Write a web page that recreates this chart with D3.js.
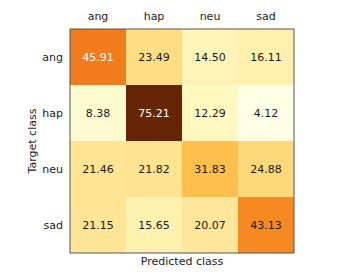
<!DOCTYPE html>
<html>
<head>
<meta charset="utf-8">
<script src="https://cdn.jsdelivr.net/npm/d3@7"></script>
<style>
  body { margin: 0; background: #fff; }
  text { font-family: "DejaVu Sans", sans-serif; }
</style>
</head>
<body>
<div id="art"></div>
<script type="text/javascript">
var classes = ["ang", "hap", "neu", "sad"];
// rows = target class, columns = predicted class
var angRow = [45.91, 23.49, 14.50, 16.11],
    hapRow = [8.38, 75.21, 12.29, 4.12],
    neuRow = [21.46, 21.82, 31.83, 24.88],
    sadRow = [21.15, 15.65, 20.07, 43.13];
var rows = [angRow, hapRow, neuRow, sadRow];

var w = 343, h = 277,
    mLeft = 70, mTop = 29, size = 224,
    fs = "11px";

var svg = d3.select("#art").append("svg")
    .attr("width", w)
    .attr("height", h);

var x = d3.scaleBand().domain(classes).range([mLeft, mLeft + size]),
    y = d3.scaleBand().domain(classes).range([mTop, mTop + size]);

// matplotlib YlOrBr stops
var ylorbr = ["#ffffe5", "#fff7bc", "#fee391", "#fec44f", "#fe9929", "#ec7014", "#cc4c02", "#993404", "#662506"];
var flat = d3.merge(rows),
    lo = d3.min(flat), hi = d3.max(flat);
var color = d3.scaleLinear()
    .domain(ylorbr.map(function(d, i) { return lo + (hi - lo) * i / (ylorbr.length - 1); }))
    .range(ylorbr)
    .interpolate(d3.interpolateRgb);

var cells = [];
rows.forEach(function(r, i) {
  r.forEach(function(v, j) {
    cells.push({ t: classes[i], p: classes[j], v: v });
  });
});

svg.selectAll("rect.cell")
    .data(cells)
  .enter().append("rect")
    .attr("class", "cell")
    .attr("x", function(d) { return x(d.p); })
    .attr("y", function(d) { return y(d.t); })
    .attr("width", x.bandwidth())
    .attr("height", y.bandwidth())
    .style("fill", function(d) { return color(d.v); });

svg.selectAll("text.val")
    .data(cells)
  .enter().append("text")
    .attr("class", "val")
    .attr("x", function(d) { return x(d.p) + x.bandwidth() / 2; })
    .attr("y", function(d) { return y(d.t) + y.bandwidth() / 2; })
    .attr("dy", "0.35em")
    .attr("text-anchor", "middle")
    .style("font-size", fs)
    .style("fill", function(d) { return d.v > 45 ? "#fff" : "#1a1a1a"; })
    .text(function(d) { return d.v.toFixed(2); });

svg.append("rect")
    .attr("x", mLeft)
    .attr("y", mTop)
    .attr("width", size)
    .attr("height", size)
    .style("fill", "none")
    .style("stroke", "#555")
    .style("stroke-width", 1);

// tick labels, no tick marks
var xAxis = svg.append("g")
    .attr("transform", "translate(0," + mTop + ")")
    .call(d3.axisTop(x).tickSize(0).tickPadding(9));
var yAxis = svg.append("g")
    .attr("transform", "translate(" + mLeft + ",0)")
    .call(d3.axisLeft(y).tickSize(0).tickPadding(7));
[xAxis, yAxis].forEach(function(g) {
  g.select(".domain").remove();
  g.selectAll("text")
    .style("font-family", "DejaVu Sans, sans-serif")
    .style("font-size", fs)
    .style("fill", "#1a1a1a");
});

svg.append("text")
    .attr("x", mLeft + size / 2)
    .attr("y", 265)
    .attr("text-anchor", "middle")
    .style("font-size", fs)
    .style("fill", "#1a1a1a")
    .text("Predicted class");

svg.append("text")
    .attr("transform", "translate(36," + (mTop + size / 2) + ") rotate(-90)")
    .attr("text-anchor", "middle")
    .style("font-size", fs)
    .style("fill", "#1a1a1a")
    .text("Target class");
</script>
</body>
</html>
